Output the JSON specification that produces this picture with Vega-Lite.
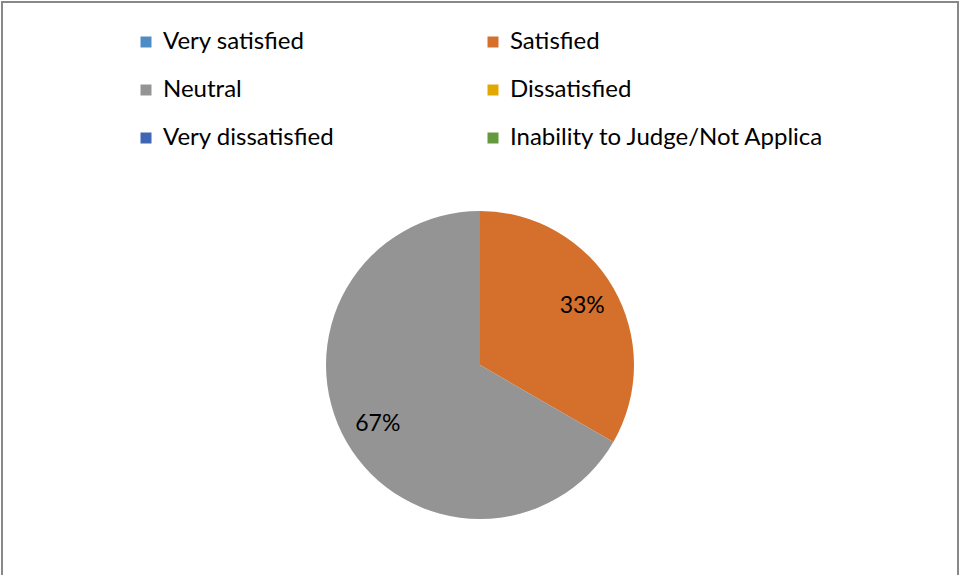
{
  "$schema": "https://vega.github.io/schema/vega-lite/v6.json",
  "width": 956,
  "height": 726,
  "autosize": {"type": "none"},
  "padding": {"left": 2, "top": 2, "right": 2, "bottom": 2},
  "background": "white",
  "config": {
    "font": "Lato"
  },
  "data": {
    "values": [
      {"category": "Very satisfied", "idx": 1, "count": 0, "label": "0%"},
      {"category": "Satisfied", "idx": 2, "count": 1, "label": "33%"},
      {"category": "Neutral", "idx": 3, "count": 2, "label": "67%"},
      {"category": "Dissatisfied", "idx": 4, "count": 0, "label": "0%"},
      {"category": "Very dissatisfied", "idx": 5, "count": 0, "label": "0%"},
      {"category": "Inability to Judge/Not Applica", "idx": 6, "count": 0, "label": "0%"}
    ]
  },
  "layer": [
    {
      "data": {"values": [{"frame": "border"}]},
      "mark": {"type": "rect", "fill": null, "fillOpacity": 0, "stroke": "#888888", "strokeWidth": 2},
      "encoding": {}
    },
    {
      "mark": {"type": "arc", "radius": 154},
      "encoding": {
        "theta": {"field": "count", "type": "quantitative", "stack": true},
        "order": {"field": "idx", "type": "quantitative"},
        "color": {
          "field": "category",
          "type": "nominal",
          "scale": {
            "domain": ["Very satisfied", "Neutral", "Very dissatisfied", "Satisfied", "Dissatisfied", "Inability to Judge/Not Applica"],
            "range": ["#4F8CC5", "#949494", "#3E66B4", "#D4702C", "#E0A800", "#65993D"]
          },
          "legend": {
            "orient": "none",
            "legendX": 132,
            "legendY": 28,
            "title": null,
            "columns": 2,
            "symbolType": "square",
            "symbolSize": 121,
            "symbolStrokeWidth": 0,
            "labelFont": "Lato",
            "labelFontSize": 24,
            "labelColor": "#000000",
            "labelOffset": 5,
            "labelLimit": 400,
            "rowPadding": 24,
            "columnPadding": 146
          }
        }
      }
    },
    {
      "transform": [{"filter": "datum.count > 0"}],
      "mark": {"type": "text", "radius": 118, "fontSize": 23, "font": "Lato", "color": "#000000"},
      "encoding": {
        "theta": {"field": "count", "type": "quantitative", "stack": true},
        "order": {"field": "idx", "type": "quantitative"},
        "detail": {"field": "category", "type": "nominal"},
        "text": {"field": "label", "type": "nominal"}
      }
    }
  ]
}
